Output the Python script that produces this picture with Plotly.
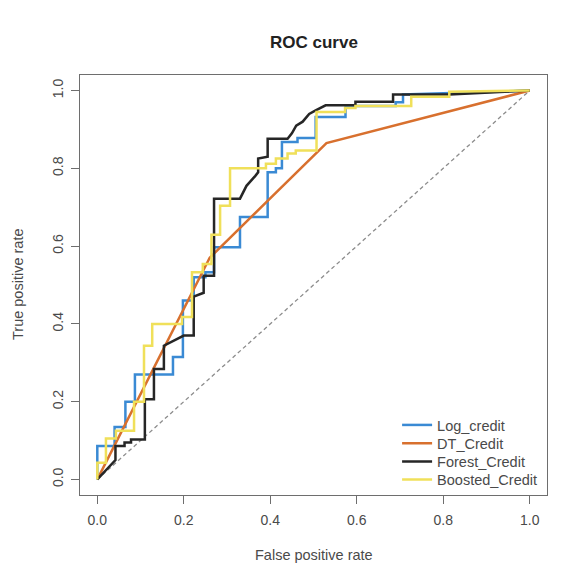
import plotly.graph_objects as go

# ---- data ----
series_names = ["Log_credit", "DT_Credit", "Forest_Credit", "Boosted_Credit"]
series_colors = ["#3a8ad4", "#d8702e", "#262626", "#f0e05a"]

log_fpr = [0, 0, 0.04, 0.04, 0.065, 0.065, 0.087, 0.087, 0.175, 0.175, 0.198, 0.198,
           0.223, 0.223, 0.25, 0.25, 0.27, 0.27, 0.33, 0.33, 0.394, 0.394, 0.413, 0.413,
           0.427, 0.427, 0.463, 0.463, 0.505, 0.505, 0.574, 0.574, 0.69, 0.69, 0.707,
           0.707, 1]
log_tpr = [0, 0.086, 0.086, 0.135, 0.135, 0.2, 0.2, 0.27, 0.27, 0.315, 0.315, 0.46,
           0.46, 0.52, 0.52, 0.533, 0.533, 0.597, 0.597, 0.675, 0.675, 0.79, 0.79, 0.80,
           0.80, 0.868, 0.868, 0.878, 0.878, 0.932, 0.932, 0.96, 0.96, 0.97, 0.97,
           0.99, 1]

dt_fpr = [0, 0.26, 0.53, 1]
dt_tpr = [0, 0.57, 0.865, 1]

forest_fpr = [0, 0.024, 0.042, 0.042, 0.063, 0.063, 0.078, 0.078, 0.11, 0.11, 0.131,
              0.131, 0.154, 0.154, 0.2, 0.223, 0.223, 0.246, 0.246, 0.27, 0.27, 0.33,
              0.345, 0.365, 0.372, 0.372, 0.394, 0.394, 0.44, 0.45, 0.46, 0.475, 0.49,
              0.505, 0.528, 0.597, 0.597, 0.684, 0.684, 0.814, 1]
forest_tpr = [0, 0.03, 0.05, 0.086, 0.086, 0.095, 0.095, 0.103, 0.103, 0.206, 0.206,
              0.284, 0.284, 0.344, 0.37, 0.37, 0.47, 0.48, 0.524, 0.524, 0.722, 0.722,
              0.755, 0.78, 0.79, 0.825, 0.83, 0.876, 0.876, 0.89, 0.91, 0.92, 0.94,
              0.949, 0.962, 0.962, 0.971, 0.971, 0.99, 0.99, 1]

boost_fpr = [0, 0, 0.02, 0.02, 0.043, 0.043, 0.085, 0.085, 0.108, 0.108, 0.127, 0.127,
             0.196, 0.196, 0.219, 0.219, 0.244, 0.244, 0.264, 0.264, 0.284, 0.284,
             0.307, 0.307, 0.39, 0.39, 0.413, 0.413, 0.44, 0.44, 0.459, 0.459, 0.507,
             0.507, 0.573, 0.573, 0.597, 0.597, 0.726, 0.726, 0.814, 0.814, 1]
boost_tpr = [0, 0.043, 0.043, 0.105, 0.105, 0.125, 0.125, 0.2, 0.2, 0.344, 0.344, 0.4,
             0.4, 0.418, 0.418, 0.533, 0.533, 0.554, 0.554, 0.629, 0.629, 0.704, 0.704,
             0.8, 0.8, 0.812, 0.812, 0.825, 0.825, 0.838, 0.838, 0.846, 0.846, 0.945,
             0.945, 0.955, 0.955, 0.96, 0.96, 0.984, 0.984, 0.997, 1]

chance_x = [0, 1]
chance_y = [0, 1]

tick_vals = [0.0, 0.2, 0.4, 0.6, 0.8, 1.0]
tick_text = ["0.0", "0.2", "0.4", "0.6", "0.8", "1.0"]

title_text = "ROC curve"
x_title = "False positive rate"
y_title = "True positive rate"

# ---- figure ----
FONT = "Liberation Sans, Arial, sans-serif"
TXT = "#4a4a4a"
FRAME = "#6e6e6e"
# page body has an 8px default margin; plot frame should sit at x 80..547, y 75..495
OFF = 8
ML, MT = 80 - OFF, 75 - OFF
PW, PH = 467, 420
W, H = 575, 579

fig = go.Figure()
fig.add_trace(go.Scatter(x=chance_x, y=chance_y, mode="lines", showlegend=False,
                         hoverinfo="skip",
                         line=dict(color="#8c8c8c", width=1.3, dash="4px,3px")))

all_x = [log_fpr, dt_fpr, forest_fpr, boost_fpr]
all_y = [log_tpr, dt_tpr, forest_tpr, boost_tpr]
legend_ids = ["legend", "legend2", "legend3", "legend4"]
for name, col, xs, ys, lg in zip(series_names, series_colors, all_x, all_y, legend_ids):
    fig.add_trace(go.Scatter(x=xs, y=ys, mode="lines", name=name, legend=lg,
                             line=dict(color=col, width=2.5)))

axis_common = dict(
    range=[-0.04, 1.04], tickvals=tick_vals, ticktext=tick_text,
    showgrid=False, zeroline=False, showline=True, mirror=True,
    linecolor=FRAME, linewidth=1.3,
    ticks="outside", ticklen=8, tickcolor=FRAME, tickwidth=1.2,
    tickfont=dict(family=FONT, size=14, color=TXT),
)
fig.update_xaxes(**axis_common, ticklabelstandoff=4)
fig.update_yaxes(**axis_common, tickangle=-90, ticklabelstandoff=2)


def py2paper(py):
    return (495 - py) / PH


row_centers = [425, 443.3, 461.5, 479.5]
legends = {}
for lg, rc in zip(legend_ids, row_centers):
    legends[lg] = dict(x=0.679, y=py2paper(rc), xanchor="left", yanchor="middle",
                       bgcolor="rgba(0,0,0,0)", borderwidth=0,
                       font=dict(family=FONT, size=14.5, color=TXT),
                       itemwidth=30)

fig.update_layout(
    width=W, height=H,
    margin=dict(l=ML, r=W - ML - PW, t=MT, b=H - MT - PH, autoexpand=False),
    paper_bgcolor="white", plot_bgcolor="white",
    font=dict(family=FONT, size=14, color=TXT),
    showlegend=True,
    **legends,
    annotations=[
        dict(text="<b>" + title_text + "</b>", xref="paper", yref="paper",
             x=0.5, y=py2paper(42), xanchor="center", yanchor="middle",
             showarrow=False, font=dict(family=FONT, size=17, color="#222222")),
        dict(text=x_title, xref="paper", yref="paper",
             x=0.5, y=py2paper(555), xanchor="center", yanchor="middle",
             showarrow=False, font=dict(family=FONT, size=14.5, color=TXT)),
        dict(text=y_title, xref="paper", yref="paper", textangle=-90,
             x=(18 - 80) / PW, y=0.5, xanchor="center", yanchor="middle",
             showarrow=False, font=dict(family=FONT, size=14.5, color=TXT)),
    ],
    shapes=[
        dict(type="rect", xref="paper", yref="paper",
             x0=(5 - 80) / PW, x1=1.2, y0=-0.3, y1=py2paper(4),
             line=dict(color="#ececec", width=2), layer="below"),
    ],
)

fig.write_html("out.html")
